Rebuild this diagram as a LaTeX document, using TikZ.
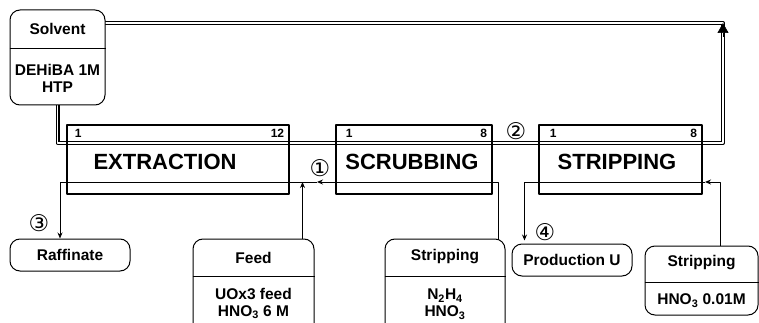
\documentclass[tikz,border=0pt]{standalone}
\usepackage{fontspec}
\setmainfont{Liberation Sans}
\newfontfamily\circfont{DejaVu Sans}
\usetikzlibrary{arrows.meta}
\tikzset{every picture/.style={line width=1pt}}

\begin{document}
\begin{tikzpicture}[x=1pt, y=-1pt, line join=round, >={Stealth[length=6pt,width=5pt]},
		font=\fontsize{15.5}{17}\selectfont\bfseries,
		tank/.style={draw, rounded corners=10pt, inner sep=0pt},
		stage/.style={draw, line width=1.2pt, minimum width=#1, minimum height=69, inner sep=0pt},
		big/.style={font=\fontsize{22}{24}\selectfont\bfseries},
		num/.style={font=\fontsize{12}{14}\selectfont\bfseries, inner sep=0pt},
		circ/.style={font=\fontsize{23}{25}\selectfont\circfont, inner sep=0pt},
		recycle/.style={double, line width=1.2pt, double distance=1.6pt},
		flow/.style={line width=0.9pt}]
				\useasboundingbox (0,0) rectangle (759,323);
				\clip (0,0) rectangle (759,323);
				\path (723,23)coordinate(ne)
				(723,143)coordinate(se)
				(317,182)coordinate(m1)
				(60,182)coordinate(aq)
				(705,182)coordinate(m2);
				% solvent loop
				\draw[recycle] (57.5,100) |- (se) -- (ne) -- (100,23);
				\draw[line width=0.6pt, -{Triangle[length=10pt,width=11pt]}] ([yshift=-14pt]ne) -- (ne);
				% source and product boxes
				\node[tank, fill=white, minimum width=95, minimum height=95] (solvent) at (57.5,57.5) {};
				\draw (solvent.west |- 0,49) -- (solvent.east |- 0,49);
				\node (solv) at (57.5,29) {Solvent};
				\node[align=center] (solvc) at (57.5,78) {DEHiBA 1M\\HTP};
				\node[tank, minimum width=120, minimum height=32] (raff) at (70,255) {Raffinate};
				\node[tank, minimum width=120, minimum height=32] (prod) at (572,260) {Production U};
				\node[tank, minimum width=121, minimum height=101] (feed) at (253.5,289.5) {};
				\node[tank, minimum width=120, minimum height=101] (scrubin) at (445,289.5) {};
				\node[tank, minimum width=113, minimum height=69] (stripin) at (701.5,280.5) {};
				\draw ([yshift=-38pt]feed.north west) -- ([yshift=-38pt]feed.north east);
				\draw ([yshift=-38pt]scrubin.north west) -- ([yshift=-38pt]scrubin.north east);
				\draw ([yshift=-37pt]stripin.north west) -- ([yshift=-37pt]stripin.north east);
				\node (feedt) at ([yshift=-19pt]feed.north) {Feed};
				\node[align=center] (feedc) at ([yshift=-65pt]feed.north) {UOx3 feed\\HNO\textsubscript{3} 6 M};
				\node (scrubt) at ([yshift=-18pt]scrubin.north) {Stripping};
				\node[align=center] (scrubc) at ([yshift=-66pt]scrubin.north) {N\textsubscript{2}H\textsubscript{4}\\HNO\textsubscript{3}};
				\node (stript) at ([yshift=-17pt]stripin.north) {Stripping};
				\node (stripc) at ([yshift=-55pt]stripin.north) {HNO\textsubscript{3} 0.01M};
				% contactors
				\node[stage=222] (extr) at (178,159.5) {};
				\node[stage=156] (scrub) at (414,159.5) {};
				\node[stage=163] (strip) at (620.5,159.5) {};
				\node[big] (extrl) at (165,162) {EXTRACTION};
				\node[big] (scrubl) at (412,162) {SCRUBBING};
				\node[big] (stripl) at (617,162) {STRIPPING};
				\foreach \s/\n/\a in {extr/12/8,scrub/8/10,strip/8/11}{
					\node[num, anchor=west] (\s-a) at ([xshift=\a pt,yshift=-9pt]\s.north west) {1};
					\node[num, anchor=east] (\s-b) at ([xshift=-5pt,yshift=-9pt]\s.north east) {\n};
				}
				% aqueous and organic streams
				\path ([xshift=-7pt]scrubin.north east)coordinate(sc)
				([xshift=-12pt]feed.north east)coordinate(fd)
				([xshift=18.5pt]stripin.north)coordinate(sd)
				([xshift=13pt]prod.north west)coordinate(pd);
				\draw[flow,->] (sc) |- (m1);
				\draw[flow,->] (m1) -| (raff.north -| aq);
				\draw[flow,->] (fd) -- (fd |- m1);
				\draw[flow,->] (sd) |- (m2);
				\draw[flow,->] (m2) -| ([yshift=3pt]pd);
				\foreach \c/\p/\t in {c1/{320,168}/①,c2/{516,131}/②,c3/{39,223}/③,c4/{545,232}/④}
					\node[circ] (\c) at (\p) {\t};
			\end{tikzpicture}
\end{document}
